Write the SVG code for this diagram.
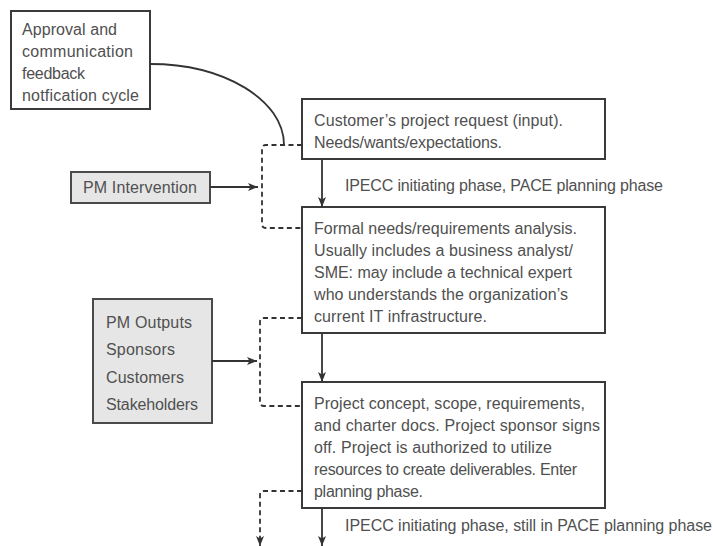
<svg xmlns="http://www.w3.org/2000/svg" width="713" height="546" viewBox="0 0 713 546">
  <style>
    .box { fill: #ffffff; stroke: #3a3a3a; stroke-width: 2; }
    .gray { fill: #e6e6e6; stroke: #4a4a4a; stroke-width: 2; }
    text { font-family: "Liberation Sans", Arial, sans-serif; font-size: 16px; fill: #505050; }
    .solid { fill: none; stroke: #333333; stroke-width: 1.8; }
    .dash { fill: none; stroke: #333333; stroke-width: 1.8; stroke-dasharray: 5 3.5; }
  </style>
  <defs>
    <marker id="arrow" viewBox="0 0 10 8" refX="10" refY="4" markerWidth="10" markerHeight="8" markerUnits="userSpaceOnUse" orient="auto">
      <path d="M0,0 L10,4 L0,8 L2.5,4 Z" fill="#333333"/>
    </marker>
  </defs>
  <rect width="713" height="546" fill="#ffffff"/>

  <g id="approval-cycle">
    <rect class="box" x="11" y="11" width="139" height="98"/>
    <text x="22" y="35" textLength="95">Approval and</text>
    <text x="22" y="57" textLength="111">communication</text>
    <text x="22" y="79" textLength="63">feedback</text>
    <text x="22" y="101" textLength="117">notfication cycle</text>
  </g>

  <g id="pm-intervention">
    <rect class="gray" x="71" y="172" width="139" height="31"/>
    <text x="83" y="193" textLength="114">PM Intervention</text>
  </g>

  <g id="pm-outputs">
    <rect class="gray" x="93" y="299" width="119" height="124"/>
    <text x="106" y="328" textLength="86">PM Outputs</text>
    <text x="106" y="355" textLength="69">Sponsors</text>
    <text x="106" y="383" textLength="78">Customers</text>
    <text x="106" y="410" textLength="92">Stakeholders</text>
  </g>

  <g id="customer-request">
    <rect class="box" x="302" y="99" width="303" height="60"/>
    <text x="314" y="126" textLength="249">Customer’s project request (input).</text>
    <text x="314" y="148" textLength="188">Needs/wants/expectations.</text>
  </g>

  <g id="requirements-analysis">
    <rect class="box" x="302" y="207" width="303" height="126"/>
    <text x="314" y="234" textLength="263">Formal needs/requirements analysis.</text>
    <text x="314" y="256" textLength="259">Usually includes a business analyst/</text>
    <text x="314" y="278" textLength="258">SME: may include a technical expert</text>
    <text x="314" y="300" textLength="254">who understands the organization’s</text>
    <text x="314" y="322" textLength="173">current IT infrastructure.</text>
  </g>

  <g id="project-charter">
    <rect class="box" x="302" y="382" width="303" height="126"/>
    <text x="314" y="409" textLength="271">Project concept, scope, requirements,</text>
    <text x="314" y="431" textLength="286">and charter docs. Project sponsor signs</text>
    <text x="314" y="453" textLength="238">off. Project is authorized to utilize</text>
    <text x="314" y="475" textLength="263">resources to create deliverables. Enter</text>
    <text x="314" y="497" textLength="109">planning phase.</text>
  </g>

  <g id="phase-labels">
    <text x="345" y="191" textLength="318">IPECC initiating phase, PACE planning phase</text>
    <text x="345" y="531" textLength="367">IPECC initiating phase, still in PACE planning phase</text>
  </g>

  <g id="connectors">
    <!-- feedback curve into the first bracket -->
    <path class="solid" d="M150,64 C224,64 284,100 284,145"/>
    <!-- dashed brackets spanning each step -->
    <path class="dash" d="M302,145 H266 Q262,145 262,149 V224 Q262,228 266,228 H302"/>
    <path class="dash" d="M302,318 H264 Q260,318 260,322 V402 Q260,406 264,406 H302"/>
    <path class="dash" d="M302,491 H264 Q260,491 260,495 V546" marker-end="url(#arrow)"/>
    <!-- inputs into the brackets -->
    <path class="solid" d="M210,187 H258" marker-end="url(#arrow)"/>
    <path class="solid" d="M212,361 H257" marker-end="url(#arrow)"/>
    <!-- main flow -->
    <path class="solid" d="M322,159 V207" marker-end="url(#arrow)"/>
    <path class="solid" d="M322,333 V382" marker-end="url(#arrow)"/>
    <path class="solid" d="M322,508 V546" marker-end="url(#arrow)"/>
  </g>
</svg>
